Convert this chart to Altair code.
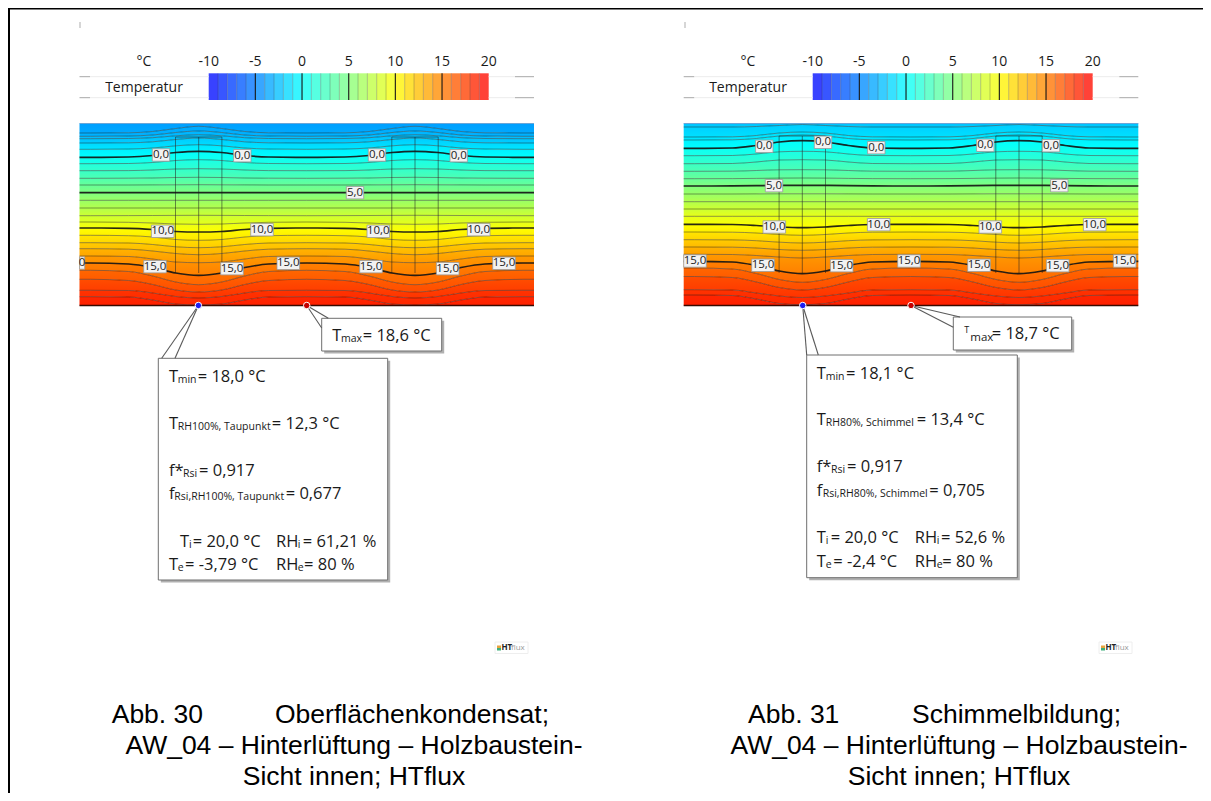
import altair as alt
import pandas as pd

W, H = 1195, 785
FONT = "Open Sans"
CAP = "Liberation Sans"

# ---- temperature colour ramp
RAMP_T = [-10, -5, 0, 5, 10, 15, 20]
RAMP_C = [(0, 0, 255), (0, 128, 255), (0, 255, 255), (128, 255, 128), (255, 255, 0), (255, 128, 0), (255, 0, 0)]

# ---- isotherms, y read at stud centre and 23/46/70/108 px away from it
L_LEVELS = [-3.4, -3, -2.5, -2, -1, 0, 1, 2, 3, 4, 5, 6, 7, 8, 9, 10, 11, 12, 13, 14, 15, 16, 17, 18, 18.5]
L_ROWS = [
    [126.3, 128.5, 131.5, 132.8, 133], [131, 132.5, 135, 136, 136.3], [134.7, 135.8, 137.7, 138.5, 138.7],
    [138, 139.5, 141.8, 142.8, 143], [144.7, 145.8, 148, 149, 149.3], [151.3, 152.5, 155.5, 157, 157.3],
    [159.7, 160.5, 162.5, 163.5, 163.7], [168.7, 169, 170, 170.6, 170.7], [177.3, 177.5, 178, 178.2, 178.3],
    [184.7, 184.8, 184.9, 185, 185], [192.7, 192.7, 192.7, 192.7, 192.7], [200.3, 200.3, 200.3, 200.3, 200.3],
    [208, 208, 208, 208, 208], [215.3, 215.4, 215.5, 215.6, 215.7], [224.3, 224, 223, 222.3, 222],
    [232, 231.5, 229.5, 228.3, 228], [240.3, 239.5, 237, 235.7, 235.3], [247.7, 246.8, 244.5, 243, 242.7],
    [254.7, 253.5, 251, 249.2, 248.7], [262.7, 262, 259, 256.5, 256], [275.3, 273, 267.5, 264, 263],
    [284.7, 282, 276, 271.5, 270.3], [292, 290, 284.5, 280.5, 279.3], [298, 296.5, 293, 290.5, 290.3],
    [305, 304, 300, 297, 296.7],
]
R_LEVELS = [-2, -1.2, -0.9, 0, 1, 2, 3, 4, 5, 6, 7, 8, 9, 10, 11, 12, 13, 14, 15, 16, 17, 18, 18.5]
R_ROWS = [
    [124.5, 125.5, 126.5, 127, 127], [132, 133, 135.5, 136.8, 137], [135, 136, 138.5, 139.8, 140],
    [140.7, 142, 145.5, 148, 148.3], [151.3, 151.8, 154, 155.5, 155.7], [159.7, 160, 162, 163.5, 163.7],
    [169.7, 169.8, 170.5, 171.2, 171.3], [178, 178.1, 178.4, 178.6, 178.7], [185.3, 185.4, 185.7, 185.9, 186],
    [193.8, 193.8, 193.9, 194, 194], [201.7, 201.7, 201.7, 201.7, 201.7], [209, 209, 209, 209, 209],
    [216.3, 216.3, 216.3, 216.3, 216.3], [227.7, 227, 225.5, 224.5, 224.3], [235.3, 234.5, 233, 232.2, 232],
    [243, 242.2, 240.7, 239.9, 239.7], [250.3, 249.5, 248, 247.2, 247], [258, 257, 255.5, 254.5, 254.3],
    [273.7, 271, 265.5, 262, 261.3], [282.3, 279.5, 273.5, 269, 268], [290, 287.5, 282, 277.5, 276.5],
    [297.5, 296, 293, 290, 289.7], [304.7, 303.5, 299, 295.5, 295],
]
OFFSETS = [0, 23, 46, 70, 108]

# ---- contour labels (x, y, text)
L_LABELS = [(161, 155, "0,0"), (242.3, 155.7, "0,0"), (377, 155, "0,0"), (458.7, 155.7, "0,0"),
            (355, 192.7, "5,0"),
            (162.7, 231.3, "10,0"), (262, 229.7, "10,0"), (378.3, 231.3, "10,0"), (478.7, 229.7, "10,0"),
            (155, 266.7, "15,0"), (232, 268.7, "15,0"), (288.3, 263.3, "15,0"), (371, 266.7, "15,0"),
            (447.7, 268.7, "15,0"), (504, 263.3, "15,0")]
R_LABELS = [(764.3, 146.3, "0,0"), (823, 142.3, "0,0"), (876.3, 147.7, "0,0"), (985.3, 145.3, "0,0"), (1051, 145.7, "0,0"),
            (774, 185.7, "5,0"), (1059.3, 185.7, "5,0"),
            (774.3, 227, "10,0"), (878.7, 224.7, "10,0"), (990.3, 227, "10,0"), (1094.7, 224.7, "10,0"),
            (694.5, 261, "15,0"), (763, 265.3, "15,0"), (841.7, 265.7, "15,0"), (909, 261, "15,0"),
            (979, 265.3, "15,0"), (1057.7, 265.7, "15,0"), (1124.7, 261, "15,0")]

# ---- callout texts (x, y, text, size)
M, S = 16.5, 10.5
L_TEXT = [
    (332.3, 335.7, "T", M), (341, 338.7, "max", S), (362.7, 335.7, "= 18,6 °C", M),
    (169, 376.7, "T", M), (177.7, 379.7, "min", S), (197.7, 376.7, "= 18,0 °C", M),
    (169, 424.3, "T", M), (177.7, 427.3, "RH100%, Taupunkt", S), (271.7, 424.3, "= 12,3 °C", M),
    (169, 470.7, "f*", M), (183, 473.7, "Rsi", S), (199, 470.7, "= 0,917", M),
    (169, 494, "f", M), (174.3, 497, "Rsi,RH100%, Taupunkt", S), (285.7, 494, "= 0,677", M),
    (180, 541.7, "T", M), (189, 544.7, "i", S), (192.7, 541.7, "= 20,0 °C", M),
    (276, 541.7, "RH", M), (297.7, 544.7, "i", S), (302.7, 541.7, "= 61,21 %", M),
    (169, 565, "T", M), (177.7, 568, "e", S), (185, 565, "= -3,79 °C", M),
    (276, 565, "RH", M), (297.7, 568, "e", S), (304, 565, "= 80 %", M),
]
R_TEXT = [
    (964.3, 330, "T", 9), (970.3, 337.5, "max", S + 1), (991.7, 334.3, "= 18,7 °C", M),
    (816.7, 373.7, "T", M), (825.7, 376.7, "min", S), (846, 373.7, "= 18,1 °C", M),
    (816.7, 420.3, "T", M), (825.7, 423.3, "RH80%, Schimmel", S), (916.7, 420.3, "= 13,4 °C", M),
    (816.7, 467.3, "f*", M), (831, 470.3, "Rsi", S), (847, 467.3, "= 0,917", M),
    (816.7, 490.7, "f", M), (822.7, 493.7, "Rsi,RH80%, Schimmel", S), (929.3, 490.7, "= 0,705", M),
    (816.7, 538.3, "T", M), (825.7, 541.3, "i", S), (830.7, 538.3, "= 20,0 °C", M),
    (914.7, 538.3, "RH", M), (936.7, 541.3, "i", S), (941, 538.3, "= 52,6 %", M),
    (816.7, 561.7, "T", M), (825.7, 564.7, "e", S), (833.3, 561.7, "= -2,4 °C", M),
    (914.7, 561.7, "RH", M), (936.7, 564.7, "e", S), (942.3, 561.7, "= 80 %", M),
]

# ---- panel geometry
PANELS = [
    dict(x0=79.5, x1=534, top=123.5, bottom=305.5, studs=[198.7, 415], half=23.2, stud_top=137, stud_end=273,
         levels=L_LEVELS, rows=L_ROWS, t_top=-3.79, t_bot=18.7, labels=L_LABELS, text=L_TEXT,
         bar0=208.7, dot_b=198.4, dot_r=306.7,
         box_max=(321.7, 441.7, 318.3, 351), lead_max=[(328.3, 318.3), (321.7, 328)],
         box_min=(158.3, 387.7, 358.3, 580), lead_min=[(161.7, 358.3), (175, 358.3)], logo=495,
         tick=80, stub=(79.5, 84.7, 263, "0")),
    dict(x0=683.7, x1=1138.3, top=123.5, bottom=305.5, studs=[802.3, 1019], half=23.2, stud_top=136, stud_end=273,
         levels=R_LEVELS, rows=R_ROWS, t_top=-2.4, t_bot=18.8, labels=R_LABELS, text=R_TEXT,
         bar0=812.7, dot_b=802.7, dot_r=911,
         box_max=(953.3, 1071.7, 317, 350), lead_max=[(960, 317), (953.3, 327.3)],
         box_min=(806.7, 1017.3, 355, 577.7), lead_min=[(806.7, 355), (818.3, 355)], logo=1099,
         tick=685, stub=None),
]
CAPTIONS = [
    (111.7, 723, "Abb. 30", "left"), (275, 723, "Oberflächenkondensat;", "left"),
    (354, 754, "AW_04 – Hinterlüftung – Holzbaustein-", "center"), (354, 785, "Sicht innen; HTflux", "center"),
    (748, 723, "Abb. 31", "left"), (912, 723, "Schimmelbildung;", "left"),
    (959, 754, "AW_04 – Hinterlüftung – Holzbaustein-", "center"), (959, 785, "Sicht innen; HTflux", "center"),
]
FRAME_TOP, FRAME_LEFT = 8.5, 9

X = alt.Scale(domain=[8, 8 + W], range=[0, W], nice=False, zero=False)
Y = alt.Scale(domain=[8, 8 + H], range=[0, H], nice=False, zero=False)
xe = alt.X("x:Q", scale=X, axis=None)
ye = alt.Y("y:Q", scale=Y, axis=None)


def jet(t, white=0.0):
    for i in range(len(RAMP_T) - 1):
        if RAMP_T[i] <= t <= RAMP_T[i + 1]:
            f = (t - RAMP_T[i]) / (RAMP_T[i + 1] - RAMP_T[i])
            c = [a + (b - a) * f for a, b in zip(RAMP_C[i], RAMP_C[i + 1])]
            c = [v + (255 - v) * white for v in c]
            return "#%02x%02x%02x" % tuple(int(round(v)) for v in c)
    return "#ff0000"


def profile(p, row):
    xs, ys = [p["x0"]], [row[-1]]
    for s in p["studs"]:
        for o, v in zip(OFFSETS[::-1], row[::-1]):
            xs.append(s - o); ys.append(v)
        for o, v in zip(OFFSETS[1:], row[1:]):
            xs.append(s + o); ys.append(v)
    xs.append(p["x1"]); ys.append(row[-1])
    return xs, ys


def rects(rows, **mark):
    d = pd.DataFrame(rows, columns=["x", "x2", "y", "y2", "fill", "stroke"])
    return alt.Chart(d).mark_rect(**mark).encode(
        x=xe, x2="x2:Q", y=ye, y2="y2:Q",
        fill=alt.Fill("fill:N", scale=None), stroke=alt.Stroke("stroke:N", scale=None))


def segs(rows, color, width, opacity=1.0, **mark):
    d = pd.DataFrame([(i, a, b) for i, r in enumerate(rows) for a, b in r], columns=["k", "x", "y"])
    return alt.Chart(d).mark_line(color=color, strokeWidth=width, opacity=opacity, **mark).encode(
        x=xe, y=ye, detail="k:N", order="x:Q")


def texts(rows, font=FONT, color="#1a1a1a", align="left", **mark):
    d = pd.DataFrame(rows, columns=["x", "y", "t", "s"])
    return alt.Chart(d).mark_text(font=font, color=color, align=align, baseline="middle", **mark).encode(
        x=xe, y=ye, text="t:N", size=alt.Size("s:Q", scale=None))


layers = []
# frame
layers.append(segs([[(8, FRAME_TOP), (8 + W, FRAME_TOP)], [(FRAME_LEFT, 8), (FRAME_LEFT, 793)]], "#000000", 2))

for p in PANELS:
    # faint tick at the top
    layers.append(segs([[(p["tick"], 22), (p["tick"], 28)]], "#c8c8c8", 1.5))

    # colour bar
    b0 = p["bar0"]
    step = 280.0 / 30
    cells = [(b0 + i * step, b0 + (i + 1) * step, 73.3, 100, jet(-10 + i + 0.5, 0.22), jet(-10 + i + 0.5, 0.22))
             for i in range(30)]
    layers.append(rects(cells, strokeWidth=0))
    thin = [[(b0 + i * step, 73.3), (b0 + i * step, 100)] for i in range(1, 30) if i % 5]
    bold = [[(b0 + i * step, 73.3), (b0 + i * step, 100)] for i in range(5, 30, 5)]
    layers.append(segs(thin, "#333333", 0.8, 0.35))
    layers.append(segs(bold, "#111111", 1.2, 0.9))
    layers.append(texts([(b0 + i * step * 5, 62, str(-10 + 5 * i), 14) for i in range(7)], align="center"))
    layers.append(texts([(b0 - 64.7, 62, "°C", 14), (b0 - 64.7, 88, "Temperatur", 14)], align="center"))
    faint = []
    dark = []
    for yy in (76.7, 97.7):
        dark += [[(p["x0"], yy), (p["x0"] + 10.5, yy)], [(p["x1"] - 19, yy), (p["x1"], yy)]]
        faint += [[(p["x0"] + 10.5, yy), (b0, yy)], [(b0 + 280, yy), (p["x1"] - 19, yy)]]
    layers.append(segs(faint, "#ececec", 1))
    layers.append(segs(dark, "#a8a8a8", 1))

    # filled temperature bands between the isotherms
    levels, rows = p["levels"], p["rows"]
    flat_top = [p["top"]] * 5
    flat_bot = [p["bottom"]] * 5
    edges = [flat_top] + rows + [flat_bot]
    temps = [p["t_top"]] + levels + [p["t_bot"]]
    for i in range(len(edges) - 1):
        xs, y1 = profile(p, edges[i])
        _, y2 = profile(p, edges[i + 1])
        d = pd.DataFrame({"x": xs, "y": y1, "y2": y2})
        grad = alt.Gradient(gradient="linear",
                            stops=[alt.GradientStop(color=jet(temps[i]), offset=0),
                                   alt.GradientStop(color=jet(temps[i + 1]), offset=1)],
                            x1=0, x2=0, y1=0, y2=1)
        layers.append(alt.Chart(d).mark_area(interpolate="monotone", color=grad, strokeWidth=0).encode(
            x=xe, y=ye, y2="y2:Q"))

    # stud outlines
    st = []
    for s in p["studs"]:
        for o in (-p["half"], 0, p["half"]):
            st.append([(s + o, p["stud_top"]), (s + o, p["stud_end"])])
        st.append([(s - p["half"], p["stud_top"]), (s + p["half"], p["stud_top"])])
    layers.append(segs(st, "#222222", 0.9, 0.6))

    # isotherm lines
    thin_rows, bold_rows = [], []
    for lev, row in zip(levels, rows):
        xs, ys = profile(p, row)
        (bold_rows if lev in (0, 5, 10, 15) else thin_rows).append(list(zip(xs, ys)))
    layers.append(segs(thin_rows, "#1a1a1a", 0.9, 0.5, interpolate="monotone"))
    layers.append(segs(bold_rows, "#111111", 1.7, 0.9, interpolate="monotone"))
    layers.append(segs([[(p["x0"], p["bottom"]), (p["x1"], p["bottom"])]], "#3a0a00", 1.4))
    layers.append(segs([[(p["x0"], p["top"]), (p["x1"], p["top"])]], "#6aa6d8", 1))

    # contour labels
    boxes, lab = [], []
    for x, y, t in p["labels"]:
        w = 8.7 if len(t) == 3 else 11.3
        x_left = max(x - w, p["x0"])
        boxes.append((x_left, x_left + 2 * w, y - 6.2, y + 6.2, "#f2f2f2", "#9a9a9a"))
        lab.append((x_left + w, y, t, 11.5))
    if p["stub"]:
        a, b, y, t = p["stub"]
        boxes.append((a, b, y - 6.2, y + 6.2, "#f2f2f2", "#9a9a9a"))
        lab.append(((a + b) / 2, y, t, 11.5))
    layers.append(rects(boxes, strokeWidth=0.8))
    layers.append(texts(lab, color="#222222", align="center"))

    # callouts
    for box, lead, dot in ((p["box_max"], p["lead_max"], p["dot_r"]), (p["box_min"], p["lead_min"], p["dot_b"])):
        a, b, c, e = box
        layers.append(rects([(a + 2.5, b + 2.5, c + 2.5, e + 2.5, "#b0b0b0", "#b0b0b0")], strokeWidth=0))
        layers.append(rects([(a, b, c, e, "#ffffff", "#6e6e6e")], strokeWidth=1))
        layers.append(segs([[(dot, p["bottom"]), q] for q in lead], "#5a5a5a", 1.1))
    dots = pd.DataFrame([(p["dot_b"], p["bottom"], "#1c1cf0"), (p["dot_r"], p["bottom"], "#c40000")],
                        columns=["x", "y", "c"])
    layers.append(alt.Chart(dots).mark_circle(size=42, opacity=1, stroke="#ffffff", strokeWidth=1).encode(
        x=xe, y=ye, fill=alt.Fill("c:N", scale=None)))
    layers.append(texts(p["text"]))

    # HTflux logo
    lx = p["logo"]
    layers.append(rects([(lx, lx + 33, 642, 653.5, "#ffffff", "#eeeeee")], strokeWidth=1))
    layers.append(rects([(lx + 2, lx + 6, 645.5, 648, "#e8a33d", "#e8a33d")], strokeWidth=0))
    layers.append(rects([(lx + 2, lx + 6, 648, 650.5, "#3fae7a", "#3fae7a")], strokeWidth=0))
    layers.append(texts([(lx + 6.5, 648, "HT", 8)], color="#222222", fontWeight="bold"))
    layers.append(texts([(lx + 16, 648, "flux", 8)], color="#9a9a9a"))

# caption
cap = pd.DataFrame(CAPTIONS, columns=["x", "y", "t", "a"])
for a in ("left", "center"):
    layers.append(alt.Chart(cap[cap.a == a]).mark_text(font=CAP, fontSize=26.5, color="#000000", align=a,
                                                       baseline="alphabetic").encode(x=xe, y=ye, text="t:N"))

chart = alt.layer(*layers).properties(width=W, height=H, padding=0, autosize="none").configure_view(stroke=None)
chart.save("out.html", embed_options={"renderer": "svg", "actions": False})
